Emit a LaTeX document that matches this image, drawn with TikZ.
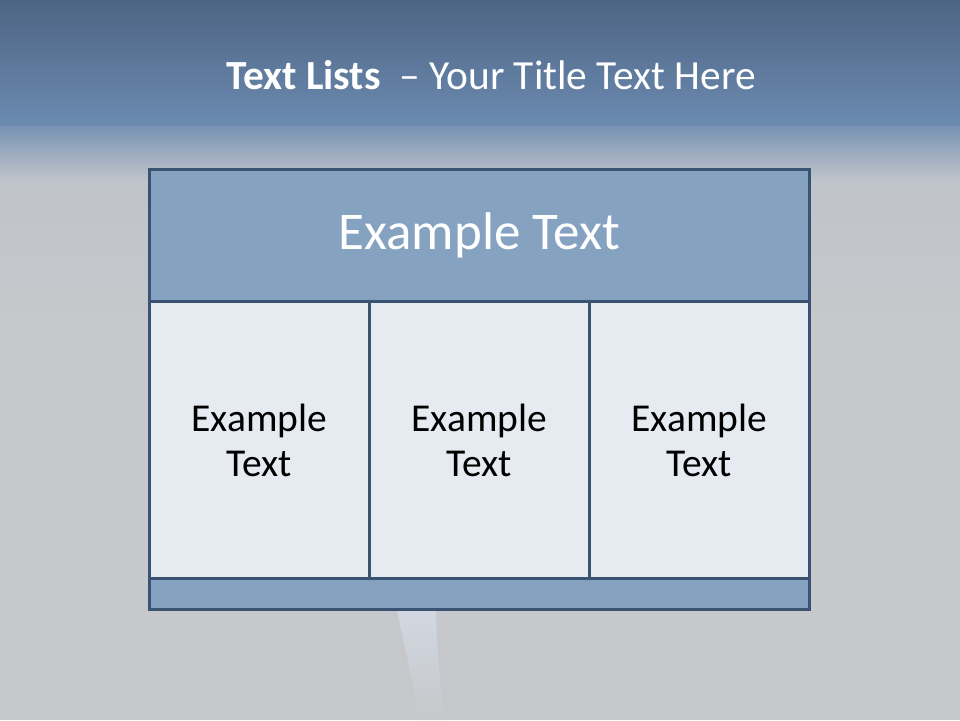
\documentclass[tikz,border=0pt]{standalone}
\usepackage{fontspec}
\setmainfont{Carlito}
\definecolor{bandtop}{HTML}{4E6483}
\definecolor{bandbot}{HTML}{6B8BB1}
\definecolor{bggray}{HTML}{C7C8CB}
\definecolor{midgray}{HTML}{BFC3CA}
\definecolor{hdrfill}{HTML}{86A2C1}
\definecolor{cellfill}{HTML}{E6EBF2}
\definecolor{edge}{HTML}{3B5373}
\begin{document}
\begin{tikzpicture}[x=1pt,y=-1pt,
  box/.style={draw=edge,line width=3pt,inner sep=0pt,anchor=north west,align=center},
  hdrbox/.style={box,fill=hdrfill,text=white},
  cellbox/.style={box,fill=cellfill,text=black,font=\fontsize{39.5}{45}\selectfont}]
\useasboundingbox (0,0) rectangle (960,720);
\fill[bggray] (0,0) rectangle (960,720);
\shade[top color=bandtop,bottom color=bandbot] (0,0) rectangle (960,126);
\shade[top color=bandbot!85!midgray,bottom color=midgray] (0,126) rectangle (960,180);
\shade[top color=midgray,bottom color=bggray] (0,180) rectangle (960,330);
% streak
\shade[top color=white!65!hdrfill,bottom color=bggray,opacity=0.75]
  (397,609) .. controls (405,650) and (415,690) .. (420,720) -- (444,720) .. controls (440,680) and (436,640) .. (436,609) -- cycle;
% title
\node[text=white,font=\fontsize{41.4}{50}\selectfont] (title) at (491,75) {\textbf{Text Lists}\ \ – Your Title Text Here};
% table
\node[hdrbox,minimum width=660pt,minimum height=132pt,font=\fontsize{53}{60}\selectfont]
  (hdr) at (148,168) {Example Text};
\node[cellbox,minimum width=220pt,minimum height=277pt] (c1) at (148,300) {Example\\Text};
\node[cellbox,minimum width=220pt,minimum height=277pt] (c2) at (368,300) {Example\\Text};
\node[cellbox,minimum width=220pt,minimum height=277pt] (c3) at (588,300) {Example\\Text};
\node[hdrbox,minimum width=660pt,minimum height=31pt] (ftr) at (148,577) {};
\end{tikzpicture}
\end{document}
